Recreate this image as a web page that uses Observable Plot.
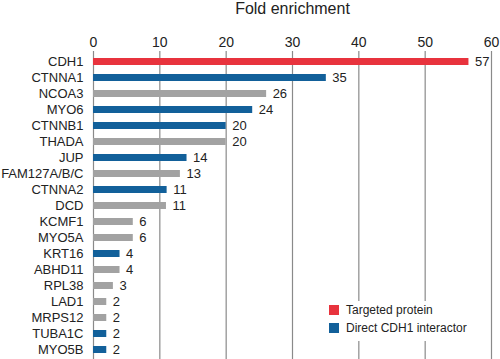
<!DOCTYPE html>
<html>
<head>
<meta charset="utf-8">
<script src="https://cdn.jsdelivr.net/npm/d3@7"></script>
<script src="https://cdn.jsdelivr.net/npm/@observablehq/plot@0.6"></script>
<style>
  html, body { margin: 0; padding: 0; background: #fff; }
  #wrap { position: relative; width: 500px; height: 359px; font-family: "Liberation Sans", Arial, sans-serif; }
  #legend { position: absolute; left: 318px; top: 301px; width: 158px; height: 40px; background: #fff;
            font-size: 12px; color: #222; }
  #legend .row { display: flex; align-items: center; height: 18px; padding-left: 11px; }
  #legend .sw { width: 10px; height: 10px; margin-right: 7px; }
</style>
</head>
<body>
<div id="wrap"></div>
<script>
const proteins = ["CDH1","CTNNA1","NCOA3","MYO6","CTNNB1","THADA","JUP","FAM127A/B/C","CTNNA2","DCD","KCMF1","MYO5A","KRT16","ABHD11","RPL38","LAD1","MRPS12","TUBA1C","MYO5B"];
const values = [56.6,35.1,26.1,24,20,20,14.1,13.1,11.1,11,6,6,4,4,3,2,2,2,2];
const labels = ["57","35","26","24","20","20","14","13","11","11","6","6","4","4","3","2","2","2","2"];
const groups = ["Targeted protein","Direct CDH1 interactor","Other","Direct CDH1 interactor","Direct CDH1 interactor","Other","Direct CDH1 interactor","Other","Direct CDH1 interactor","Other","Other","Other","Direct CDH1 interactor","Other","Other","Other","Other","Direct CDH1 interactor","Direct CDH1 interactor"];
const groupNames = ["Targeted protein","Direct CDH1 interactor","Other"];
const groupColors = ["#e8333d","#12609a","#a2a2a2"];
const xTicks = [0,10,20,30,40,50,60];

const data = proteins.map((p, i) => ({protein: p, value: values[i], label: labels[i], group: groups[i]}));

const chart = Plot.plot({
  width: 500,
  height: 359,
  marginTop: 51,
  marginBottom: 0,
  marginLeft: 93,
  marginRight: 9,
  style: {fontFamily: "'Liberation Sans', Arial, sans-serif", color: "#222", background: "#fff"},
  x: {domain: [0, 60], ticks: xTicks},
  y: {type: "point", domain: proteins, padding: 0.5},
  color: {domain: groupNames, range: groupColors},
  marks: [
    Plot.gridX(xTicks, {stroke: "#8a8a8a", strokeOpacity: 1, strokeWidth: 1.2}),
    Plot.axisX({anchor: "top", ticks: xTicks, tickSize: 0, tickPadding: 5, fontSize: 14,
                label: "Fold enrichment", labelAnchor: "center", labelArrow: "none", labelOffset: 49}),
    Plot.axisY({tickSize: 0, tickPadding: 10, fontSize: 13, label: null}),
    Plot.ruleY(data, {y: "protein", x1: 0, x2: "value", stroke: "group", strokeWidth: 7}),
    Plot.text(data, {y: "protein", x: "value", text: "label", textAnchor: "start", dx: 6, fontSize: 13, fill: "#222"})
  ]
});
// enlarge the axis title
chart.querySelectorAll("[aria-label='x-axis label'] text").forEach(t => t.setAttribute("font-size", 16));

const wrap = document.getElementById("wrap");
wrap.appendChild(chart);

const legend = document.createElement("div");
legend.id = "legend";
groupNames.slice(0, 2).forEach((g, i) => {
  const row = document.createElement("div");
  row.className = "row";
  const sw = document.createElement("span");
  sw.className = "sw";
  sw.style.background = groupColors[i];
  const tx = document.createElement("span");
  tx.textContent = g;
  row.appendChild(sw); row.appendChild(tx);
  legend.appendChild(row);
});
wrap.appendChild(legend);
</script>
</body>
</html>
